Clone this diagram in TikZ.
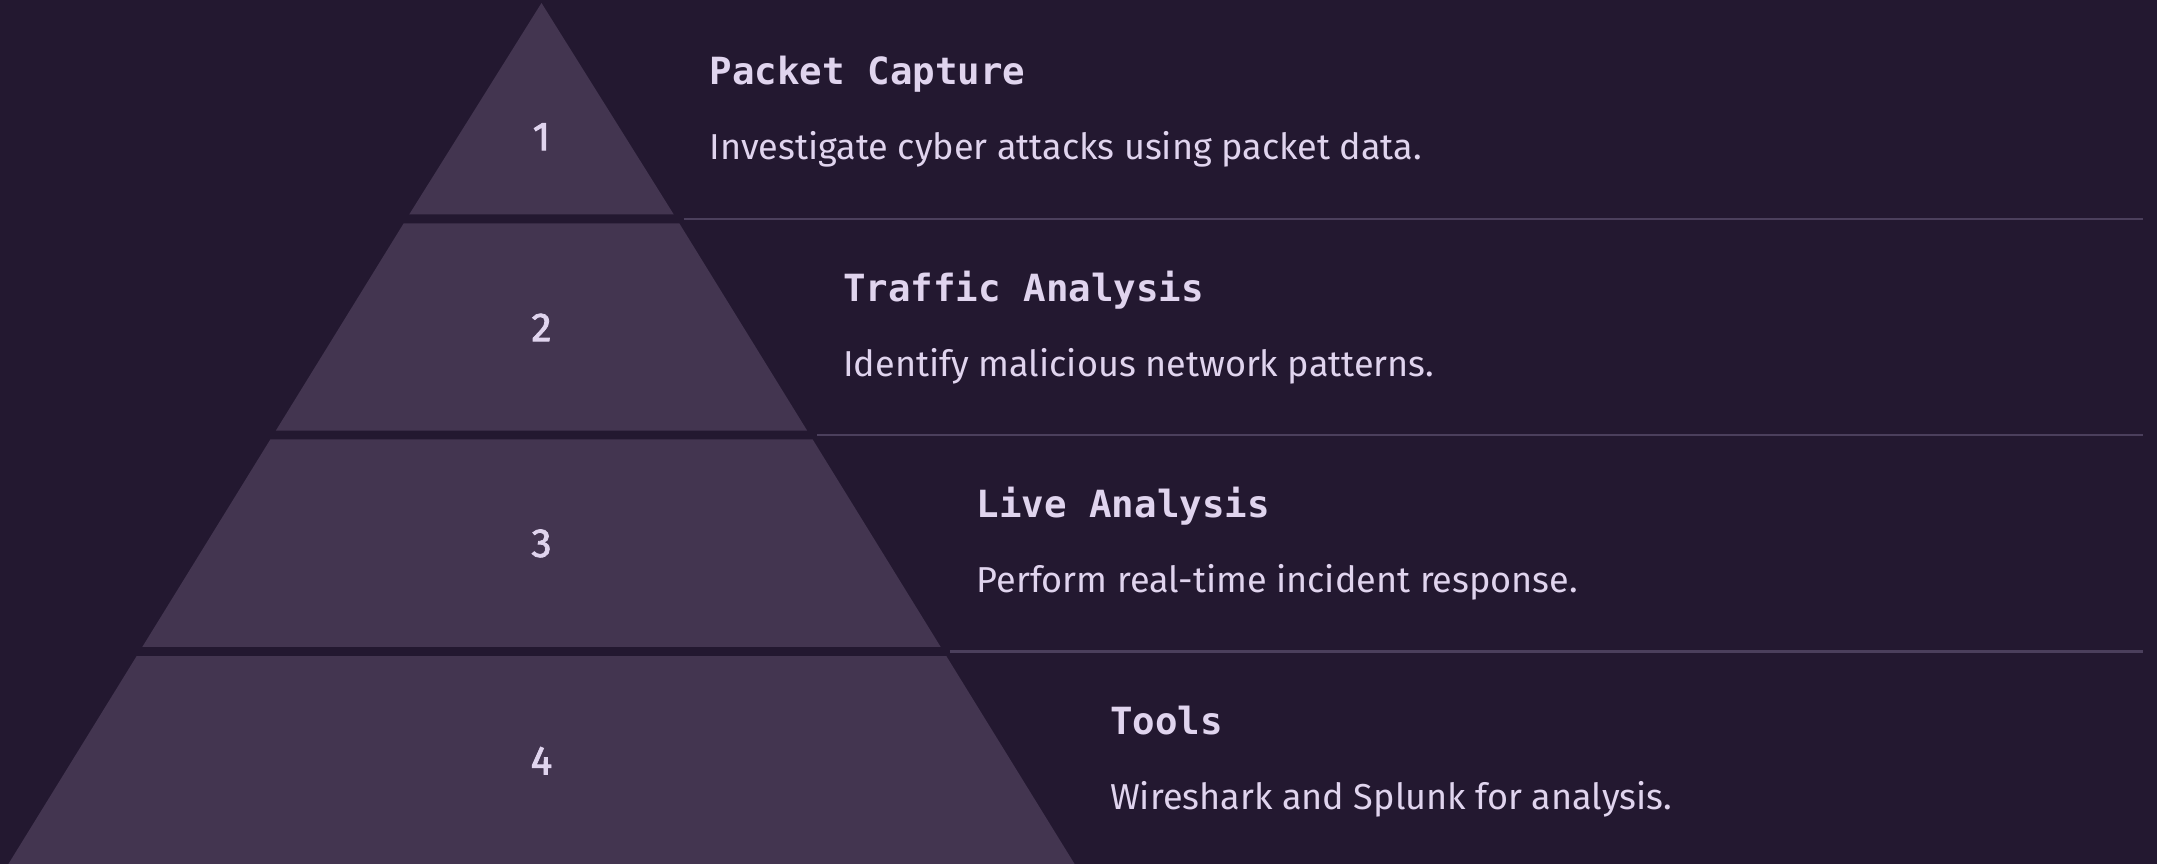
\documentclass[tikz,border=0pt]{standalone}
\usepackage{fontspec}
\setmainfont{Fira Sans}
\newfontfamily\headfont{DejaVu Sans Mono}
\newfontfamily\numfont{Fira Sans}[FakeBold=2]
\usetikzlibrary{positioning, calc}

\definecolor{bgpurple}{HTML}{231830}
\definecolor{tierfill}{HTML}{433550}
\definecolor{linegray}{HTML}{4B3F5C}
\definecolor{textlav}{HTML}{E0D4EE}

\begin{document}
\begin{tikzpicture}[
  x=0.01cm, y=-0.01cm,
  % Define styles for different elements
  tier/.style={fill=tierfill},
  numlabel/.style={font=\numfont\fontsize{11.5}{13}\selectfont, text=textlav, inner sep=0pt},
  heading/.style={font=\headfont\bfseries\fontsize{10.65}{12}\selectfont, text=textlav, anchor=base west, inner sep=0pt},
  desc/.style={font=\fontsize{10.25}{12}\selectfont, text=textlav, anchor=base west, inner sep=0pt},
  sepline/.style={draw=linegray, line width=0.02cm}
]

% Background
\useasboundingbox (0,0) rectangle (2157,864);
\fill[bgpurple] (0,0) rectangle (2157,864);

% Pyramid tiers
\fill[tier] (541.5,3) -- (673.8,214.5) -- (409.2,214.5) -- cycle;
\fill[tier] (403.6,223.5) -- (679.4,223.5) -- (807.2,430.7) -- (275.8,430.7) -- cycle;
\fill[tier] (270.3,439.5) -- (812.7,439.5) -- (940.6,646.8) -- (142.4,646.8) -- cycle;
\fill[tier] (136.7,656) -- (946.3,656) -- (1074.6,864) -- (8.4,864) -- cycle;

% Tier numbers
\node[numlabel] (num1) at (541.5,136.7) {1};
\node[numlabel] (num2) at (541.5,327.4) {2};
\node[numlabel] (num3) at (541.5,543.4) {3};
\node[numlabel] (num4) at (541.5,760.7) {4};

% Tier 1: Packet Capture
\node[heading] (head1) at (709,85) {Packet Capture};
\node[desc] (desc1) at (709,160) {Investigate cyber attacks using packet data.};

% Tier 2: Traffic Analysis
\node[heading] (head2) at (842.5,301.5) {Traffic Analysis};
\node[desc] (desc2) at (842.5,376.5) {Identify malicious network patterns.};

% Tier 3: Live Analysis
\node[heading] (head3) at (976,518) {Live Analysis};
\node[desc] (desc3) at (976,593) {Perform real-time incident response.};

% Tier 4: Tools
\node[heading] (head4) at (1109.5,734.5) {Tools};
\node[desc] (desc4) at (1109.5,809.5) {Wireshark and Splunk for analysis.};

% Separator lines
\coordinate (sep1_left) at (683.6,219);
\coordinate (sep1_right) at (2143,219);
\coordinate (sep2_left) at (817,435.2);
\coordinate (sep2_right) at (2143,435.2);
\coordinate (sep3_left) at (949.5,651.5);
\coordinate (sep3_right) at (2143,651.5);

\draw[sepline] (sep1_left) -- (sep1_right);
\draw[sepline] (sep2_left) -- (sep2_right);
\draw[sepline] (sep3_left) -- (sep3_right);

\end{tikzpicture}
\end{document}
